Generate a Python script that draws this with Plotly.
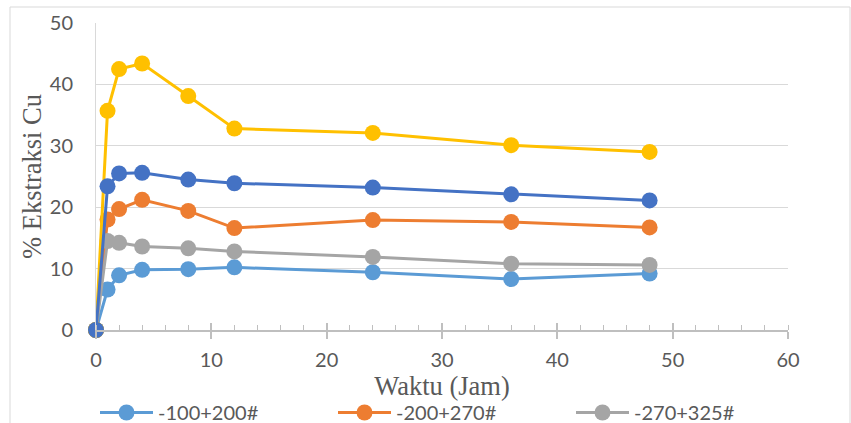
import plotly.graph_objects as go

# ---- data ----
waktu = [0, 1, 2, 4, 8, 12, 24, 36, 48]
series_names = ["-100+200#", "-200+270#", "-270+325#", "Seri 4", "Seri 5"]
s_100_200 = [0, 6.6, 8.9, 9.8, 9.9, 10.2, 9.4, 8.3, 9.2]
s_200_270 = [0, 18.0, 19.7, 21.2, 19.4, 16.6, 17.9, 17.6, 16.7]
s_270_325 = [0, 14.5, 14.2, 13.6, 13.3, 12.8, 11.9, 10.8, 10.6]
s_yellow = [0, 35.7, 42.5, 43.4, 38.1, 32.8, 32.1, 30.1, 29.0]
s_darkblue = [0, 23.4, 25.5, 25.6, 24.5, 23.9, 23.2, 22.1, 21.1]
series_values = [s_100_200, s_200_270, s_270_325, s_yellow, s_darkblue]
series_colors = ["#5B9BD5", "#ED7D31", "#A5A5A5", "#FFC000", "#4472C4"]
series_in_legend = [True, True, True, False, False]

x_ticks = [0, 10, 20, 30, 40, 50, 60]
y_ticks = [0, 10, 20, 30, 40, 50]

fig = go.Figure()
for name, vals, col, leg in zip(series_names, series_values, series_colors, series_in_legend):
    fig.add_trace(go.Scatter(
        x=waktu, y=vals, name=name, mode="lines+markers",
        line=dict(color=col, width=3),
        marker=dict(color=col, size=16),
        showlegend=leg, cliponaxis=False,
    ))

# helper trace for the second (inner tick) x axis, invisible
fig.add_trace(go.Scatter(x=waktu, y=s_100_200, xaxis="x2", mode="markers",
                         marker=dict(opacity=0), showlegend=False, hoverinfo="skip"))

W, H = 851, 423
L, R, T, B = 96, 63, 23, 93
pw, ph = W - L - R, H - T - B

def px_x(p):
    return (p - L) / pw

def px_y(p):
    return (H - B - p) / ph

tick_font = dict(family="Lato, Open Sans, sans-serif", size=20, color="#595959")
title_font = dict(family="Liberation Serif, Times New Roman, serif", size=26.5, color="#595959")

fig.update_layout(
    width=W, height=H,
    margin=dict(l=L, r=R, t=T, b=B, autoexpand=False),
    paper_bgcolor="white", plot_bgcolor="white",
    xaxis=dict(
        range=[0, 60], tickvals=x_ticks, showgrid=False, zeroline=False,
        showline=True, linecolor="#BFBFBF", linewidth=1.5,
        ticks="outside", ticklen=7, tickcolor="#BFBFBF", tickwidth=1.5,
        minor=dict(ticks="inside", ticklen=5, dtick=2, tickcolor="#BFBFBF", tickwidth=1.2, showgrid=False),
        tickfont=tick_font, ticklabelstandoff=4,
        title=dict(text="Waktu (Jam)", font=title_font, standoff=0),
        fixedrange=True,
    ),
    xaxis2=dict(
        overlaying="x", matches="x", anchor="y", side="bottom",
        range=[0, 60], tickvals=x_ticks, showgrid=False, zeroline=False, showline=False,
        ticks="inside", ticklen=7, tickcolor="#BFBFBF", tickwidth=1.5, showticklabels=False,
    ),
    yaxis=dict(
        range=[0, 50], tickvals=y_ticks, showgrid=True, gridcolor="#D9D9D9", gridwidth=1,
        zeroline=False, showline=True, linecolor="#D9D9D9", linewidth=1,
        ticks="", tickfont=tick_font, ticklabelstandoff=18,
        title=dict(text="% Ekstraksi Cu", font=title_font, standoff=0),
        fixedrange=True,
    ),
    legend=dict(
        orientation="h", x=px_x(95), y=px_y(393), xanchor="left", yanchor="top",
        entrywidth=170, entrywidthmode="pixels",
        font=dict(family="Lato, Open Sans, sans-serif", size=20, color="#595959"),
        itemwidth=53, bgcolor="rgba(0,0,0,0)",
    ),
    shapes=[dict(type="rect", xref="paper", yref="paper",
                 x0=px_x(10), x1=px_x(850), y0=px_y(440), y1=px_y(7),
                 line=dict(color="#D9D9D9", width=1), layer="below")],
    showlegend=True,
)

fig.write_html("out.html", config={"displayModeBar": False},
               post_script="document.body.style.margin='0';")
